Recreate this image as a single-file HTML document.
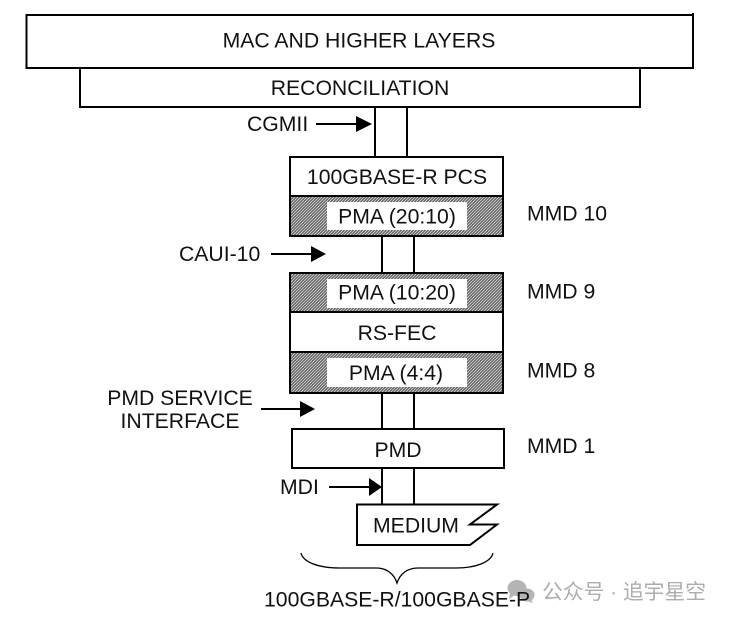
<!DOCTYPE html>
<html><head><meta charset="utf-8"><style>
html,body{margin:0;padding:0;background:#fff}
svg{display:block}
text{font-family:"Liberation Sans",Arial,sans-serif;font-size:21.2px;fill:#111}
.m{text-anchor:middle}
.w{font-family:"Liberation Sans","Noto Sans CJK SC",sans-serif;font-size:20.8px;fill:#adadad}
</style></head><body>
<svg xmlns="http://www.w3.org/2000/svg" width="729" height="621" viewBox="0 0 729 621">
<defs>
<pattern id="h" width="3" height="3" patternUnits="userSpaceOnUse">
<rect width="3" height="3" fill="#5a5a5a"/>
<path d="M-1 1L1 -1M0 3L3 0M2 4L4 2" stroke="#d8d8d8" stroke-width="0.9"/>
</pattern>
</defs>
<rect width="729" height="621" fill="#fff"/>
<g fill="none" stroke="#000" stroke-width="2">
<rect x="26.500" y="15" width="666.500" height="53"/>
<path d="M693 13V15"/>
<rect x="80" y="68" width="560" height="39"/>
<path d="M375 107V157M407 107V157"/>
<rect x="290" y="157" width="213" height="39" fill="#fff"/>
<rect x="290" y="196" width="213" height="40" fill="url(#h)"/>
<path d="M382 236V273M414 236V273"/>
<rect x="290" y="273" width="213" height="39" fill="url(#h)"/>
<rect x="290" y="312" width="213" height="40" fill="#fff"/>
<rect x="290" y="352" width="213" height="41" fill="url(#h)"/>
<path d="M382 393V429M414 393V429"/>
<rect x="292" y="429" width="212" height="39"/>
<path d="M382 468V505M414 468V505"/>
<path d="M357 504.500H497L470 524.500H497L470 545H357Z" fill="#fff"/>
<path d="M382 470V504M414 470V504"/>
</g>
<rect x="327" y="202" width="140" height="28" fill="#fff"/>
<rect x="327" y="279" width="140" height="29" fill="#fff"/>
<rect x="327" y="358" width="140" height="29" fill="#fff"/>
<g stroke="#000" stroke-width="2" fill="none">
<path d="M316 124H358"/>
<path d="M271 254H316"/>
<path d="M261 409H304"/>
<path d="M329 487H370"/>
</g>
<g fill="#000">
<path d="M356 116L372 124L356 132Z"/>
<path d="M311 246L326 254L311 262Z"/>
<path d="M300 401L315 409L300 417Z"/>
<path d="M369 478L382 487L369 496Z"/>
</g>
<path d="M301 553C303 562 318 568 340 568H376C387 568 394 574 397 583C400 574 407 568 418 568H456C476 568 491 562 493 553" fill="none" stroke="#000" stroke-width="1.300"/>
<g fill="#a8a8a8" opacity="0.85">
<ellipse cx="517" cy="588" rx="9.500" ry="8"/>
<path d="M510 593L509 599L515 595Z"/>
<ellipse cx="527" cy="595" rx="7.500" ry="6.500"/>
<path d="M531 599L533 603L527 601Z"/>
</g>
<text class="m" x="359" y="47.500">MAC AND HIGHER LAYERS</text>
<text class="m" x="360" y="95">RECONCILIATION</text>
<text x="247" y="131">CGMII</text>
<text class="m" x="397" y="184">100GBASE-R PCS</text>
<text class="m" x="397" y="223.500">PMA (20:10)</text>
<text x="527" y="220.500">MMD 10</text>
<text x="179" y="261">CAUI-10</text>
<text class="m" x="397" y="299.500">PMA (10:20)</text>
<text x="527" y="298.500">MMD 9</text>
<text class="m" x="397" y="340">RS-FEC</text>
<text class="m" x="396" y="380">PMA (4:4)</text>
<text x="527" y="377.500">MMD 8</text>
<text class="m" x="180" y="405">PMD SERVICE</text>
<text class="m" x="180" y="428">INTERFACE</text>
<text class="m" x="398" y="457">PMD</text>
<text x="527" y="453">MMD 1</text>
<text x="280" y="494">MDI</text>
<text class="m" x="416" y="532.500">MEDIUM</text>
<text x="264" y="606.500">100GBASE-R/100GBASE-P</text>
<text class="w" x="542" y="599">公众号 · 追宇星空</text>
</svg>
</body></html>
